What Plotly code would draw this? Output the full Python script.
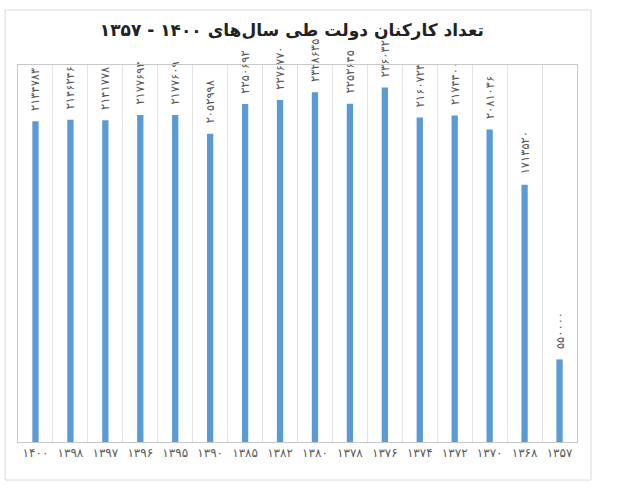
import plotly.graph_objects as go

# years, left to right as in the chart
years = ["۱۴۰۰", "۱۳۹۸", "۱۳۹۷", "۱۳۹۶", "۱۳۹۵", "۱۳۹۰", "۱۳۸۵", "۱۳۸۲",
         "۱۳۸۰", "۱۳۷۸", "۱۳۷۶", "۱۳۷۴", "۱۳۷۲", "۱۳۷۰", "۱۳۶۸", "۱۳۵۷"]

# number of government employees
employees = [2134783, 2146246, 2141778, 2177694, 2177609, 2052998, 2250692, 2276770,
             2328635, 2252645, 2360320, 2160723, 2174400, 2081036, 1713520, 550000]

title_text = "تعداد کارکنان دولت طی سال‌های ۱۴۰۰ - ۱۳۵۷"

fa_digits = str.maketrans("0123456789", "۰۱۲۳۴۵۶۷۸۹")
# small gap between bar top and its label
labels = ["\u00a0\u00a0" + str(v).translate(fa_digits) for v in employees]

fig = go.Figure()
fig.add_trace(go.Bar(
    x=years, y=employees,
    marker=dict(color="#5b9bd5", line=dict(width=0)),
    text=labels, textposition="outside", textangle=-90,
    textfont=dict(size=11.5, color="#595959", family="DejaVu Sans"),
    constraintext="none", cliponaxis=False,
))

# outer chart border
fig.add_shape(type="rect", xref="paper", yref="paper",
              x0=-0.023, x1=1.025, y0=-0.101, y1=1.146,
              line=dict(color="#d9d9d9", width=1), layer="below")

fig.update_layout(
    width=621, height=494,
    margin=dict(l=18, r=44, t=65, b=52),
    paper_bgcolor="white", plot_bgcolor="white",
    bargap=0.82,
    showlegend=False,
    title=dict(text="<b>" + title_text + "</b>", x=0.47, xanchor="center",
               y=0.94, yanchor="middle",
               font=dict(size=17, color="#222222", family="DejaVu Sans")),
    font=dict(family="DejaVu Sans"),
)
fig.update_xaxes(
    type="category", tickson="boundaries", showgrid=True, gridcolor="#e3e3e3",
    ticks="", showline=True, mirror=True, linecolor="#c8c8c8",
    tickfont=dict(size=12, color="#595959"),
)
fig.update_yaxes(
    range=[0, 2510000], showticklabels=False, showgrid=False, zeroline=False,
    showline=True, mirror=True, linecolor="#c8c8c8",
)

fig.write_html("out.html", config={"displayModeBar": False},
               post_script="document.body.style.margin='0';")
